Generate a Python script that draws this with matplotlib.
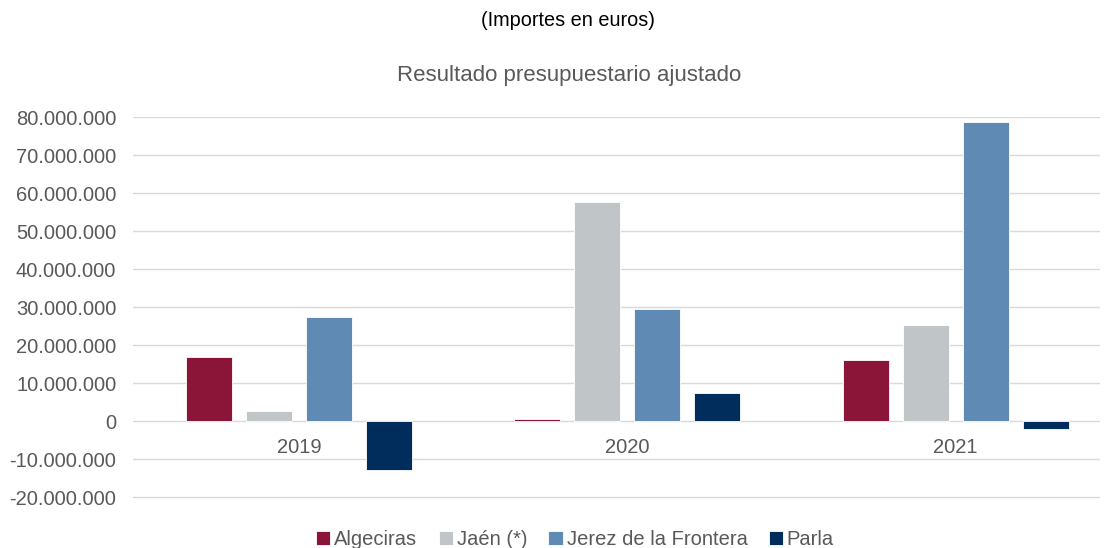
import numpy as np
import matplotlib.pyplot as plt
from matplotlib.ticker import FuncFormatter

plt.rcParams['font.family'] = ['Liberation Sans', 'DejaVu Sans']

# ---------------- data ----------------
years = ["2019", "2020", "2021"]
series_names = ["Algeciras", "Jaén (*)", "Jerez de la Frontera", "Parla"]
algeciras = [16.8e6, 0.5e6, 16.0e6]
jaen = [2.6e6, 57.6e6, 25.4e6]
jerez = [27.4e6, 29.6e6, 78.7e6]
parla = [-12.9e6, 7.5e6, -2.1e6]
colors = ["#8B1538", "#C0C5C8", "#5F8AB4", "#002D5C"]

series = [algeciras, jaen, jerez, parla]

# ---------------- figure ----------------
fig = plt.figure(figsize=(11.08, 5.48), dpi=100)
ax = fig.add_axes([0.12, 0.0894, 0.873, 0.697])

x = np.arange(len(years))
step = 0.183
width = 0.14
for i, (vals, name, c) in enumerate(zip(series, series_names, colors)):
    ax.bar(x + (i - 1.5) * step, vals, width, color=c, label=name,
           edgecolor="white", linewidth=0.6, zorder=3)

ax.set_xlim(-0.505, 2.44)
ax.set_ylim(-20.5e6, 80e6)
ax.set_yticks(np.arange(-20e6, 80e6 + 1, 10e6))
ax.yaxis.set_major_formatter(FuncFormatter(lambda v, p: f"{v:,.0f}".replace(",", ".")))
ax.tick_params(axis="y", length=0, labelsize=14.5, labelcolor="#595959", pad=12)
ax.set_xticks([])
ax.grid(axis="y", color="#D9D9D9", linewidth=1, zorder=0)
for s in ax.spines.values():
    s.set_visible(False)

# category labels just under the zero line
for xi, yr in zip(x, years):
    ax.annotate(yr, (xi, 0), xytext=(0, -12), textcoords="offset points",
                ha="center", va="top", fontsize=14.5, color="#595959")

fig.text(0.513, 0.963, "(Importes en euros)", ha="center", va="center",
         fontsize=14.3, color="black")
fig.text(0.514, 0.862, "Resultado presupuestario ajustado", ha="center",
         va="center", fontsize=16, color="#595959")

leg = fig.legend(loc="center", bbox_to_anchor=(0.519, 0.015), ncol=4,
                 frameon=False, fontsize=14.5, handlelength=0.7, handleheight=0.7,
                 handletextpad=0.2, columnspacing=1.05)
for t in leg.get_texts():
    t.set_color("#595959")

fig.savefig("out.png", dpi=100)
